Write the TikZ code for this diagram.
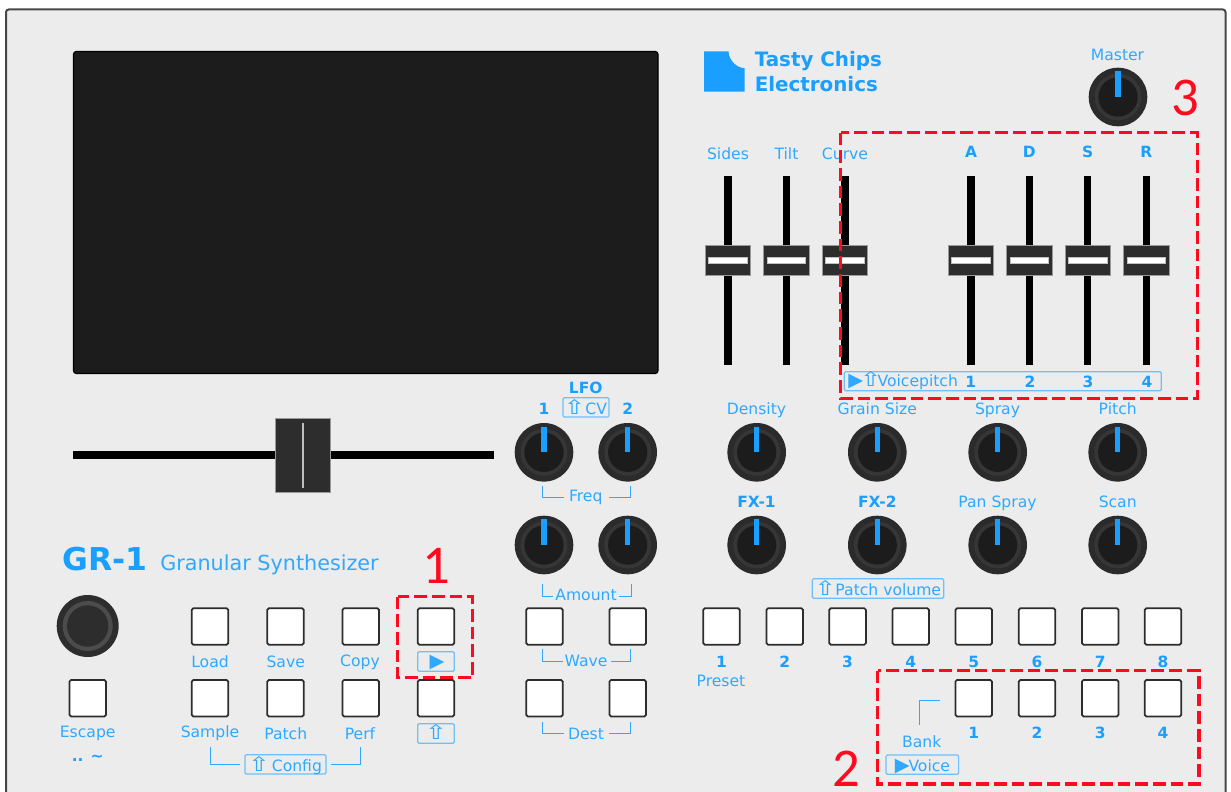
\documentclass[tikz,border=0pt]{standalone}
\usepackage{fontspec}
\setmainfont{DejaVu Sans}
\newfontfamily\redfont{Carlito}
\definecolor{panel}{HTML}{ECECEC}
\definecolor{tc}{HTML}{1A9FFF}
\definecolor{tcl}{HTML}{2FA8FF}
\definecolor{boxl}{HTML}{6FC0FA}
\definecolor{capc}{HTML}{2D2D2D}
\definecolor{knoba}{HTML}{2B2B2B}
\definecolor{knobb}{HTML}{363636}
\definecolor{knobc}{HTML}{1C1C1C}
\definecolor{redm}{HTML}{FF0A1E}
\newcommand{\fs}[1]{\fontsize{#1}{#1}\selectfont}
\newcommand{\arr}{\scalebox{1.3}[1]{\fs{15}⇧}}
\newcommand{\tri}{{\fs{14.5}▶}}
\tikzset{
  x=0.75pt,y=-0.75pt,
  lab/.style={text=tcl,inner sep=0pt,font=\fs{11.7},text height=8.5pt,text depth=0pt},
  blab/.style={text=tc,inner sep=0pt,font=\fs{11.6}\bfseries,text height=8.5pt,text depth=0pt},
  lbox/.style={draw=boxl,line width=0.9pt,rounded corners=1pt},
  brack/.style={draw=tcl,line width=0.75pt},
  btn/.style={draw=capc,fill=white,line width=1.3pt,rounded corners=1.2pt},
  redbox/.style={draw=redm,line width=2.5pt,dash pattern=on 9.5pt off 3.75pt},
  rednum/.style={text=redm,inner sep=0pt,font=\redfont\fs{41}},
}
\newcommand{\knob}[3]{%
  \fill[knoba] (#1,#2) circle[radius=#3];
  \fill[knobb] (#1,#2) circle[radius=#3*0.8];
  \fill[knobc] (#1,#2) circle[radius=#3*0.67];
  \fill[tc] (#1-2.7,#2-#3*0.88) rectangle (#1+2.7,#2);
}
\newcommand{\fader}[1]{%
  \fill[black] (#1-3.7,175.5) rectangle (#1+3.7,364.5);
  \draw[draw=black!40,fill=capc,line width=0.5pt] (#1-22.7,245) rectangle (#1+22.7,275.5);
  \draw[draw=black!25,fill=white,line width=0.5pt] (#1-19.3,257.3) rectangle (#1+19.3,263.3);
}
\newcommand{\push}[2]{\draw[btn] (#1-18.3,#2) rectangle (#1+18.3,#2+36.4);}
\begin{document}
\begin{tikzpicture}
\useasboundingbox (0,0) rectangle (1231,792);
\fill[white] (0,0) rectangle (1231,792);
% panel
\draw[fill=panel,draw=black!72,line width=1.5pt,rounded corners=2pt] (6,9.5) -- (1225.5,9.5) -- (1225.5,800) -- (6,800) -- cycle;
% display
\draw[fill=knobc,draw=black,line width=0.8pt,rounded corners=2pt] (73.5,51.5) rectangle (658,373.5);
% horizontal fader
\fill[black] (73,451) rectangle (494,459);
\draw[draw=black!40,fill=capc,line width=0.7pt] (275.3,418.5) rectangle (330,492);
\draw[draw=black!25,fill=white,line width=0.4pt] (301.8,423) rectangle (303.7,487);
% logo
\fill[tc] (704,51.3) -- (728.5,51.3) .. controls (729,60.5) and (736,67.5) .. (744.7,68.3) -- (744.7,91.7) -- (704,91.7) -- cycle;
\node[text=tc,inner sep=0pt,font=\fs{14.9}\bfseries,anchor=base west] (tasty) at (754.5,66.7) {Tasty Chips};
\node[text=tc,inner sep=0pt,font=\fs{14.9}\bfseries,anchor=base west] (elec) at (754.5,91) {Electronics};
% faders
\foreach \x in {728,786.5,845,971,1029.3,1087.6,1146.3} {\fader{\x}}
\node[lab] (sides) at (728,154.3) {Sides};
\node[lab] (tilt) at (786.5,154.3) {Tilt};
\node[lab] (curve) at (845,154.3) {Curve};
\node[blab] (fa) at (971,152.3) {A};
\node[blab] (fd) at (1029.3,152.3) {D};
\node[blab] (fs) at (1087.6,152.3) {S};
\node[blab] (fr) at (1146.3,152.3) {R};
\node[lab] (master) at (1117.5,55) {Master};
\knob{1118}{97}{29.3}
% voicepitch
\draw[lbox] (844.3,371.7) rectangle (1161.3,390.7);
\node[lab,anchor=west] (vp) at (848,381) {\tri\hspace{-2.5pt}\arr\hspace{-3pt}Voicepitch};
\node[blab] (v1) at (970.7,381.7) {1};
\node[blab] (v2) at (1030,381.7) {2};
\node[blab] (v3) at (1088,381.7) {3};
\node[blab] (v4) at (1147,381.7) {4};
% knobs
\foreach \x in {544,627.7,756.7,877.3,997.7,1117.7} {\knob{\x}{452.3}{29.3}\knob{\x}{545}{29.3}}
\node[blab] (lfo) at (585.7,387.8) {LFO};
\node[blab] (l1) at (544,408.8) {1};
\node[blab] (l2) at (627.7,408.8) {2};
\draw[lbox] (563,397.7) rectangle (609,417);
\node[lab] (cv) at (585.3,408.6) {\arr CV};
\node[lab] (dens) at (756.5,408.6) {Density};
\node[lab] (grain) at (877.3,408.6) {Grain Size};
\node[lab] (spray) at (997.5,408.6) {Spray};
\node[lab] (pitch) at (1117.7,408.6) {Pitch};
\node[blab] (fx1) at (756.5,501.7) {FX-1};
\node[blab] (fx2) at (877.3,501.7) {FX-2};
\node[lab] (pan) at (997.5,502) {Pan Spray};
\node[lab] (scan) at (1117.7,502) {Scan};
\node[lab] (freq) at (585.7,496) {Freq};
\draw[brack] (542.7,485.7) -- (542.7,497.3) -- (564,497.3);
\draw[brack] (609.3,497.3) -- (630.7,497.3) -- (630.7,485.7);
\node[lab] (amount) at (586,594.4) {Amount};
\draw[brack] (542.7,584) -- (542.7,596) -- (553.3,596);
\draw[brack] (619.3,596) -- (631.3,596) -- (631.3,584);
\draw[lbox] (812.3,578.7) rectangle (943.7,598.3);
\node[lab] (pv) at (877.7,589.4) {\arr\hspace{-0.5pt}Patch volume};
% title
\node[text=tc,inner sep=0pt,font=\fs{23.6}\bfseries,anchor=base west] (gr) at (62,570.7) {GR-1};
\node[text=tcl,inner sep=0pt,font=\fs{15.55},anchor=base west] (gs) at (160,570.7) {Granular Synthesizer};
% encoder
\fill[capc] (87.7,626) circle[radius=31];
\fill[black!70] (87.7,626) circle[radius=25];
\fill[capc] (87.7,626) circle[radius=20.7];
% left buttons
\push{87.7}{680}
\foreach \x in {210,285.5,360.7,436} {\push{\x}{608.3}\push{\x}{680}}
\node[lab] (load) at (210,661.9) {Load};
\node[lab] (save) at (285.7,661.9) {Save};
\node[lab] (copy) at (360,660.4) {Copy};
\node[lab] (esc) at (87.7,731.7) {Escape};
\node[blab] (dots) at (87.7,756) {.. \char`~};
\node[lab] (sample) at (210,731.7) {Sample};
\node[lab] (patch) at (285.7,733.5) {Patch};
\node[lab] (perf) at (360,733.5) {Perf};
\draw[lbox] (417.7,651.7) rectangle (454.3,671.3);
\node[lab] (play) at (437,661.5) {\tri};
\draw[lbox] (417.7,723.7) rectangle (454.3,743.3);
\node[lab] (shift) at (436,733.5) {\arr};
\draw[lbox] (245,754.7) rectangle (326,774);
\node[lab] (config) at (285,765.6) {\arr\hspace{1.5pt}Config};
\draw[brack] (210.7,747.3) -- (210.7,764.7) -- (240,764.7);
\draw[brack] (331,764.7) -- (360.3,764.7) -- (360.3,747.3);
% wave / dest
\foreach \x in {544.5,627.7} {\push{\x}{608.3}\push{\x}{680}}
\node[lab] (wave) at (586,661) {Wave};
\draw[brack] (542.7,649.3) -- (542.7,661.7) -- (562.7,661.7);
\draw[brack] (611,661.7) -- (630.7,661.7) -- (630.7,649.3);
\node[lab] (dest) at (586,733.4) {Dest};
\draw[brack] (542.7,721.7) -- (542.7,733.3) -- (564.3,733.3);
\draw[brack] (609.3,733.3) -- (630.7,733.3) -- (630.7,721.7);
% presets
\foreach \x/\n in {721.5/1,784.7/2,847.6/3,910.8/4,973.7/5,1037/6,1100.2/7,1163/8} {
  \push{\x}{608.3}
  \node[blab] (pn\n) at (\x,661.7) {\n};
}
\node[lab] (preset) at (721,681) {Preset};
\foreach \x/\n in {973.7/1,1037/2,1100.2/3,1163/4} {
  \push{\x}{680}
  \node[blab] (bn\n) at (\x,733.3) {\n};
}
\draw[brack] (919.6,725) -- (919.6,700.7) -- (940,700.7);
\node[lab] (bank) at (921.7,742) {Bank};
\draw[lbox] (886,755) rectangle (958.6,774.3);
\node[lab] (voice) at (922.5,765.4) {\tri\hspace{-1pt}Voice};
% red marks
\draw[redbox] (397.7,596.7) rectangle (472.7,677.7);
\draw[redbox] (877.5,670.7) rectangle (1199,784);
\draw[redbox] (840.6,132.7) rectangle (1197.6,398.3);
\node[rednum] (r1) at (436.7,566) {1};
\node[rednum] (r2) at (846,768.5) {2};
\node[rednum] (r3) at (1185,98) {3};
\end{tikzpicture}
\end{document}
